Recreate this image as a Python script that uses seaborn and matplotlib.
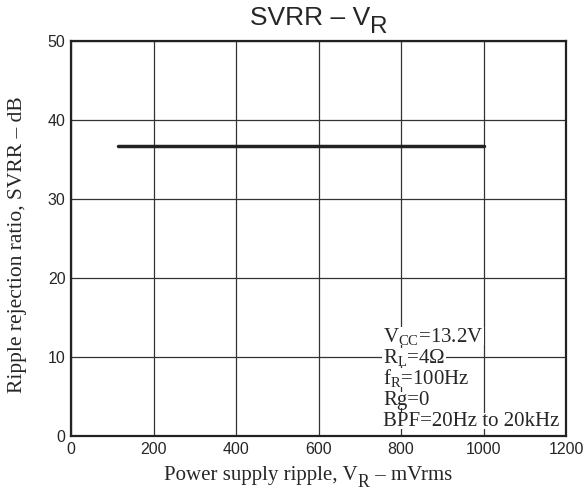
import matplotlib
matplotlib.use("Agg")
import matplotlib.pyplot as plt
from matplotlib.patches import Rectangle
import seaborn as sns
import pandas as pd

# data
ripple_mv = [115, 1000]
svrr_db = [36.7, 36.7]
xticks = [0, 200, 400, 600, 800, 1000, 1200]
yticks = [0, 10, 20, 30, 40, 50]
cond_lines = [r"V$_{\mathregular{CC}}$=13.2V", r"R$_{\mathregular{L}}$=4Ω",
              r"f$_{\mathregular{R}}$=100Hz", "Rg=0", "BPF=20Hz to 20kHz"]

sns.set_style("white")
plt.rcParams["mathtext.default"] = "regular"

W, H = 585, 493
fig = plt.figure(figsize=(W/100, H/100), dpi=100)
ax = fig.add_axes([71/W, 1-436/H, (566-71)/W, (436-41)/H])

df = pd.DataFrame({"x": ripple_mv, "y": svrr_db})
sns.lineplot(data=df, x="x", y="y", ax=ax, color="#222222", lw=2.5, zorder=3)

ax.set_xlim(0, 1200)
ax.set_ylim(0, 50)
ax.set_xticks(xticks)
ax.set_yticks(yticks)
ax.set_xticklabels([str(t) for t in xticks], fontfamily="Liberation Sans", fontsize=11.5)
ax.set_yticklabels([str(t) for t in yticks], fontfamily="Liberation Sans", fontsize=11.5)
ax.tick_params(direction="in", length=0, pad=4)
ax.grid(True, color="#333333", lw=0.9)
for s in ax.spines.values():
    s.set_color("#222222")
    s.set_linewidth(1.6)
ax.set_xlabel("")
ax.set_ylabel("")

renderer = fig.canvas.get_renderer()


def width_of(t, f, family):
    tt = fig.text(0, 0, t, fontfamily=family, fontsize=f)
    bb = tt.get_window_extent(renderer)
    tt.remove()
    return bb.width


def sub_text(x_px, y_px, main, sub, rest, fs, family, sub_scale=0.85, drop=0.35):
    parts = [(main, fs, 0)]
    if sub:
        parts.append((sub, fs*sub_scale, -drop*fs*100/72))
    if rest:
        parts.append((rest, fs, 0))
    widths = [width_of(t, f, family) for t, f, d in parts]
    x = x_px - sum(widths)/2
    for (t, f, d), w in zip(parts, widths):
        fig.text(x/W, 1-(y_px - d)/H, t, fontsize=f, fontfamily=family,
                 va="baseline", ha="left", zorder=4)
        x += w


# title
sub_text(319, 25, "SVRR – V", "R", "", 19, "Liberation Sans", sub_scale=0.92, drop=0.3)
# x label
sub_text(308, 480, "Power supply ripple, V", "R", " – mVrms", 15, "Liberation Serif")
# y label
fig.text(18/W, 1-245/H, "Ripple rejection ratio, SVRR – dB", fontfamily="Liberation Serif",
         fontsize=15.5, rotation=90, ha="center", va="center")

ys = [342, 363, 384, 405, 426]
for t, yp in zip(cond_lines, ys):
    tx = fig.text(383/W, 1-yp/H, t, fontsize=15, fontfamily="Liberation Serif",
                  va="baseline", ha="left", zorder=4)
    bb = tx.get_window_extent(renderer)
    fig.patches.append(Rectangle(((bb.x0-1)/W, (bb.y0+2)/H), (bb.width+2)/W, (bb.height-3)/H,
                                 transform=fig.transFigure, facecolor="white",
                                 edgecolor="none", zorder=2))

fig.savefig("out.png", dpi=100)
